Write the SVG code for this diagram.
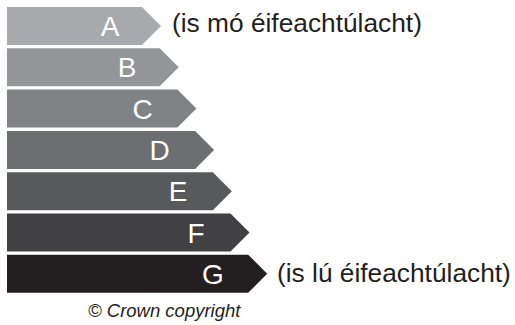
<svg xmlns="http://www.w3.org/2000/svg" width="515" height="325" viewBox="0 0 515 325">
<style>
.lbl{font-family:"Liberation Sans",Arial,sans-serif;font-size:28px;fill:#ffffff;text-anchor:middle}
.note{font-family:"Liberation Sans",Arial,sans-serif;font-size:26.3px;fill:#231f20}
.copy{font-family:"Liberation Sans",Arial,sans-serif;font-size:18.5px;font-style:italic;fill:#231f20}
</style>
<rect width="515" height="325" fill="#ffffff"/>
<g id="bar-A"><polygon points="7,7 142,7 161,26 142,45 7,45" fill="#a7a9ac"/><text class="lbl" x="110" y="36">A</text></g>
<g id="bar-B"><polygon points="7,48.3 159.7,48.3 178.7,67.3 159.7,86.3 7,86.3" fill="#939598"/><text class="lbl" x="127" y="77.3">B</text></g>
<g id="bar-C"><polygon points="7,89.6 177.4,89.6 196.4,108.6 177.4,127.6 7,127.6" fill="#808285"/><text class="lbl" x="142.5" y="118.5">C</text></g>
<g id="bar-D"><polygon points="7,130.9 195.1,130.9 214.1,149.9 195.1,168.9 7,168.9" fill="#6d6e71"/><text class="lbl" x="159.5" y="159.9">D</text></g>
<g id="bar-E"><polygon points="7,172.2 212.8,172.2 231.8,191.2 212.8,210.2 7,210.2" fill="#58595b"/><text class="lbl" x="178" y="201.2">E</text></g>
<g id="bar-F"><polygon points="7,213.5 230.5,213.5 249.5,232.5 230.5,251.5 7,251.5" fill="#414042"/><text class="lbl" x="196" y="242.5">F</text></g>
<g id="bar-G"><polygon points="7,254.8 248.2,254.8 267.2,273.8 248.2,292.8 7,292.8" fill="#231f20"/><text class="lbl" x="213" y="283.8">G</text></g>
<text class="note" x="172" y="32">(is mó éifeachtúlacht)</text>
<text class="note" x="277" y="282">(is lú éifeachtúlacht)</text>
<text class="copy" x="88" y="316.5">© Crown copyright</text>
</svg>
